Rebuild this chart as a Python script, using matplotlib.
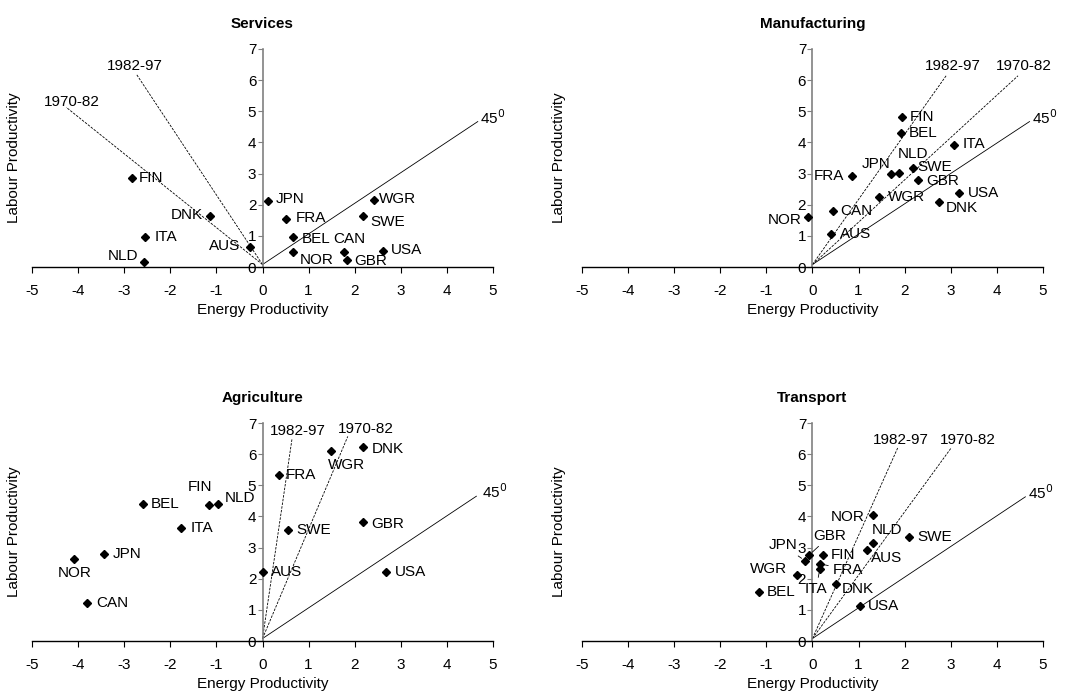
import numpy as np
import matplotlib
matplotlib.use('Agg')
import matplotlib.pyplot as plt

plt.rcParams['font.family'] = ['Liberation Sans', 'DejaVu Sans']
plt.rcParams['font.size'] = 11
plt.rcParams['axes.unicode_minus'] = False

# data: (energy productivity, labour productivity) growth per country
svc_names = ['FIN', 'DNK', 'ITA', 'NLD', 'AUS', 'JPN', 'FRA', 'BEL', 'NOR', 'CAN', 'GBR', 'WGR', 'SWE', 'USA']
svc_x = [-2.84, -1.13, -2.55, -2.58, -0.28, 0.11, 0.50, 0.66, 0.66, 1.77, 1.84, 2.42, 2.18, 2.61]
svc_y = [2.87, 1.63, 0.96, 0.17, 0.64, 2.12, 1.53, 0.96, 0.48, 0.48, 0.23, 2.15, 1.63, 0.53]

man_names = ['FIN', 'BEL', 'ITA', 'NLD', 'JPN', 'SWE', 'FRA', 'GBR', 'USA', 'WGR', 'DNK', 'CAN', 'NOR', 'AUS']
man_x = [1.94, 1.92, 3.08, 1.87, 1.71, 2.19, 0.86, 2.28, 3.19, 1.45, 2.75, 0.45, -0.10, 0.41]
man_y = [4.83, 4.29, 3.92, 3.02, 2.98, 3.19, 2.93, 2.80, 2.38, 2.26, 2.09, 1.79, 1.60, 1.06]

agr_names = ['DNK', 'WGR', 'FRA', 'FIN', 'NLD', 'BEL', 'ITA', 'SWE', 'GBR', 'JPN', 'NOR', 'AUS', 'USA', 'CAN']
agr_x = [2.18, 1.49, 0.35, -1.17, -0.96, -2.59, -1.77, 0.56, 2.18, -3.44, -4.10, 0.02, 2.67, -3.81]
agr_y = [6.22, 6.11, 5.34, 4.37, 4.40, 4.41, 3.63, 3.55, 3.81, 2.79, 2.64, 2.21, 2.21, 1.21]

trn_names = ['NOR', 'NLD', 'AUS', 'SWE', 'GBR', 'JPN', 'FIN', 'FRA', 'ITA', 'WGR', 'DNK', 'BEL', 'USA']
trn_x = [1.32, 1.32, 1.18, 2.10, -0.07, -0.16, 0.22, 0.16, 0.16, -0.33, 0.51, -1.16, 1.03]
trn_y = [4.04, 3.15, 2.91, 3.35, 2.76, 2.58, 2.75, 2.48, 2.31, 2.13, 1.84, 1.56, 1.11]

# reference rays: end points of 1970-82, 1982-97 and 45 degree lines
ray_labels = ['1970-82', '1982-97', '45$^0$']
svc_ray_x = [-4.26, -2.74, 4.67]
svc_ray_y = [5.13, 6.20, 4.67]
man_ray_x = [4.46, 2.90, 4.71]
man_ray_y = [6.14, 6.14, 4.67]
agr_ray_x = [1.85, 0.64, 4.64]
agr_ray_y = [6.57, 6.49, 4.65]
trn_ray_x = [3.01, 1.85, 4.62]
trn_ray_y = [6.20, 6.20, 4.63]

# label offsets in points (style)
svc_off = [(14, 0), (-17, 1), (15, 0), (-15, 4), (-18, 1), (16, 1.5), (18, 1), (17, -1),
           (17, -5.5), (3.5, 9.5), (17, -1), (17, 0.5), (18, -4), (17, 0.5)]
man_off = [(14.4, 0), (16, 0), (14, 0.5), (10, 13.7), (-11, 7), (15.6, 0.7), (-17, -0.5),
           (18, -1), (17, 0), (19.7, 0), (16, -4.5), (17, 0), (-17, -2), (17.5, 0)]
agr_off = [(18, -1.5), (11, -10), (16, 0), (-6, 12.7), (15.6, 4), (16, 0), (15, 0), (18.5, 0),
           (18, -1), (17, 0), (1, -10), (17, 0), (18, 0), (18, 0)]
trn_off = [(-18.5, -1), (10, 9.6), (14, -5.5), (18, 0), (15, 14), (-16, 11), (15, 0), (20, -4.3),
           (-2.6, -14), (-20.4, 4), (16, -4), (16, 0), (17, 0)]
trn_leader = ['GBR', 'JPN', 'FRA', 'ITA']

# ray label offsets in points
svc_roff = [(4, 4), (-1, 6), (11, 3)]
man_roff = [(4, 7), (5, 7), (11, 3)]
agr_roff = [(13, 5), (4, 6), (13, 3)]
trn_roff = [(12, 6), (2, 6), (11, 3)]

origin_y = 0.08

fig = plt.figure(figsize=(10.68, 6.93), dpi=100)
positions = [[0.030, 0.6147, 0.4316, 0.3146], [0.5449, 0.6147, 0.4316, 0.3146],
             [0.030, 0.0750, 0.4316, 0.3146], [0.5449, 0.0750, 0.4316, 0.3146]]
panels = [
    ('Services', svc_names, svc_x, svc_y, svc_off, svc_ray_x, svc_ray_y, svc_roff, []),
    ('Manufacturing', man_names, man_x, man_y, man_off, man_ray_x, man_ray_y, man_roff, []),
    ('Agriculture', agr_names, agr_x, agr_y, agr_off, agr_ray_x, agr_ray_y, agr_roff, []),
    ('Transport', trn_names, trn_x, trn_y, trn_off, trn_ray_x, trn_ray_y, trn_roff, trn_leader),
]

for k, (title, names, px, py, off, rx, ry, roff, leaders) in enumerate(panels):
    ax = fig.add_axes(positions[k])
    ax.set_xlim(-5, 5)
    ax.set_ylim(0, 7)

    # rays
    for j in range(3):
        ls = '-' if j == 2 else (0, (3, 1.5))
        ax.plot([0, rx[j]], [origin_y, ry[j]], color='black', lw=0.6, ls=ls, zorder=1)
        ax.annotate(ray_labels[j], (rx[j], ry[j]), xytext=roff[j], textcoords='offset points',
                    ha='center', va='center', fontsize=11)

    ax.plot(px, py, ls='none', marker='D', color='black', markersize=4.5, zorder=3)
    for i, n in enumerate(names):
        if n in leaders:
            ax.annotate(n, (px[i], py[i]), xytext=off[i], textcoords='offset points',
                        ha='center', va='center', fontsize=11,
                        arrowprops=dict(arrowstyle='-', lw=0.6, color='black',
                                        shrinkA=1, shrinkB=3))
        else:
            ax.annotate(n, (px[i], py[i]), xytext=off[i], textcoords='offset points',
                        ha='center', va='center', fontsize=11)

    # move y axis to x = 0
    ax.spines['right'].set_color('none')
    ax.spines['top'].set_color('none')
    ax.spines['left'].set_position(('data', 0))
    ax.spines['left'].set_color('#808080')
    ax.spines['left'].set_linewidth(1.2)
    ax.spines['bottom'].set_linewidth(1.0)
    ax.set_xticks(range(-5, 6))
    ax.set_yticks(range(0, 8))
    ax.tick_params(axis='x', direction='out', length=4, pad=8, labelsize=11)
    ax.tick_params(axis='y', direction='out', length=3.5, pad=1, labelsize=11, color='#808080')

    ax.set_title(title, fontsize=11, fontweight='bold', pad=15)
    ax.set_xlabel('Energy Productivity', fontsize=11)
    ax.xaxis.set_label_coords(0.5, -0.165)
    ax.set_ylabel('Labour Productivity', fontsize=11)
    ax.yaxis.set_label_coords(-0.025 if k % 2 == 0 else -0.034, 0.5)
    ax.patch.set_alpha(0)

fig.savefig('out.png', dpi=100)
